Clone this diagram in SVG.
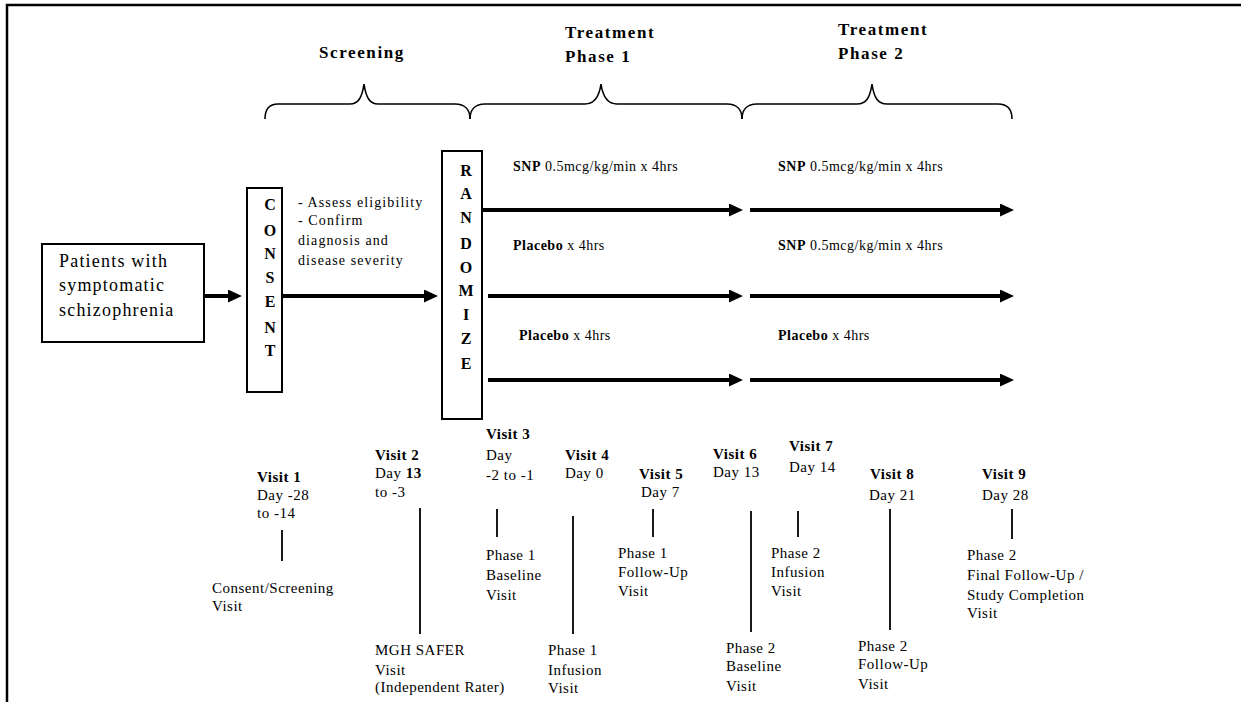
<svg xmlns="http://www.w3.org/2000/svg" width="1241" height="702" viewBox="0 0 1241 702">
<style>
text{font-family:"Liberation Serif","Times New Roman",serif;fill:#000}
.ttl{font-size:17px;font-weight:bold;letter-spacing:1.6px}
.box{fill:#fff;stroke:#000;stroke-width:2}
.vl{font-size:16px;font-weight:bold;text-anchor:middle}
.pt{font-size:18px;letter-spacing:1.2px}
.sm{font-size:14px;letter-spacing:1.1px}
.arm{font-size:14px;letter-spacing:0.5px}
.vt{font-size:15px;letter-spacing:0.5px}
.b{font-weight:bold}
.brace{fill:none;stroke:#000;stroke-width:1.6}
.arr{stroke:#000;stroke-width:4;fill:none}
.tick{stroke:#000;stroke-width:1.8}
.frame{stroke:#000;stroke-width:2.5;fill:none}
</style>
<defs>
<marker id="ah" markerUnits="userSpaceOnUse" markerWidth="14" markerHeight="13" refX="1" refY="6.5" orient="auto">
<path d="M0,0 L14,6.5 L0,13 z" fill="#000"/>
</marker>
</defs>
<rect width="1241" height="702" fill="#fff"/>
<g id="frame">
<path class="frame" d="M7,702 V5 H1241"/>
</g>
<g id="phase-headers">
<text class="ttl" x="319" y="58">Screening</text>
<text class="ttl" x="565" y="38">Treatment</text>
<text class="ttl" x="565" y="62">Phase 1</text>
<text class="ttl" x="838" y="35">Treatment</text>
<text class="ttl" x="838" y="59">Phase 2</text>
<path class="brace" d="M265,119 C265,110 268,104 278,104 L350,104 C358,104 362,98 364,84 C366,98 370,104 378,104 L455,104 C465,104 470,110 470,119"/>
<path class="brace" d="M470,119 C470,110 475,104 485,104 L585,104 C594,104 599,98 601,84 C603,98 608,104 617,104 L727,104 C737,104 742,110 742,119"/>
<path class="brace" d="M742,119 C742,110 747,104 757,104 L857,104 C866,104 870,98 872,84 C874,98 878,104 887,104 L998,104 C1008,104 1012,110 1012,119"/>
</g>
<g id="patients">
<rect class="box" x="42" y="244" width="162" height="98"/>
<text class="pt" x="59" y="267">Patients with</text>
<text class="pt" x="59" y="291">symptomatic</text>
<text class="pt" x="59" y="316">schizophrenia</text>
</g>
<g id="consent">
<rect class="box" x="247" y="188" width="35" height="204"/>
<text class="vl" x="270" y="210">C</text>
<text class="vl" x="270" y="236">O</text>
<text class="vl" x="270" y="259">N</text>
<text class="vl" x="270" y="283">S</text>
<text class="vl" x="270" y="307">E</text>
<text class="vl" x="270" y="333">N</text>
<text class="vl" x="270" y="356">T</text>
</g>
<g id="screening-notes">
<text class="sm" x="298" y="207">- Assess eligibility</text>
<text class="sm" x="298" y="225">- Confirm</text>
<text class="sm" x="298" y="245">diagnosis and</text>
<text class="sm" x="298" y="265">disease severity</text>
</g>
<g id="randomize">
<rect class="box" x="442" y="151" width="40" height="268"/>
<text class="vl" x="466" y="176">R</text>
<text class="vl" x="466" y="199">A</text>
<text class="vl" x="466" y="223">N</text>
<text class="vl" x="466" y="249">D</text>
<text class="vl" x="466" y="273">O</text>
<text class="vl" x="466" y="296">M</text>
<text class="vl" x="466" y="320">I</text>
<text class="vl" x="466" y="344">Z</text>
<text class="vl" x="466" y="369">E</text>
</g>
<g id="arm-labels">
<text class="arm" x="513" y="171"><tspan class="b">SNP</tspan> 0.5mcg/kg/min x 4hrs</text>
<text class="arm" x="778" y="171"><tspan class="b">SNP</tspan> 0.5mcg/kg/min x 4hrs</text>
<text class="arm" x="513" y="250"><tspan class="b">Placebo</tspan> x 4hrs</text>
<text class="arm" x="778" y="250"><tspan class="b">SNP</tspan> 0.5mcg/kg/min x 4hrs</text>
<text class="arm" x="519" y="340"><tspan class="b">Placebo</tspan> x 4hrs</text>
<text class="arm" x="778" y="340"><tspan class="b">Placebo</tspan> x 4hrs</text>
</g>
<g id="connectors">
<line class="arr" x1="204" y1="296" x2="229" y2="296" marker-end="url(#ah)"/>
<line class="arr" x1="282" y1="296" x2="425" y2="296" marker-end="url(#ah)"/>
<line class="arr" x1="481" y1="210" x2="730" y2="210" marker-end="url(#ah)"/>
<line class="arr" x1="750" y1="210" x2="1001" y2="210" marker-end="url(#ah)"/>
<line class="arr" x1="488" y1="296" x2="730" y2="296" marker-end="url(#ah)"/>
<line class="arr" x1="750" y1="296" x2="1001" y2="296" marker-end="url(#ah)"/>
<line class="arr" x1="488" y1="380" x2="730" y2="380" marker-end="url(#ah)"/>
<line class="arr" x1="750" y1="380" x2="1001" y2="380" marker-end="url(#ah)"/>
</g>
<g id="visit1">
<text class="vt b" x="257" y="482">Visit 1</text>
<text class="vt" x="257" y="500">Day -28</text>
<text class="vt" x="257" y="518">to -14</text>
<line class="tick" x1="282" y1="530" x2="282" y2="561"/>
<text class="vt" x="212" y="593">Consent/Screening</text>
<text class="vt" x="212" y="611">Visit</text>
</g>
<g id="visit2">
<text class="vt b" x="375" y="460">Visit 2</text>
<text class="vt" x="375" y="478">Day <tspan class="b">13</tspan></text>
<text class="vt" x="375" y="497">to -3</text>
<line class="tick" x1="420" y1="508" x2="420" y2="634"/>
<text class="vt" x="375" y="655">MGH SAFER</text>
<text class="vt" x="375" y="675">Visit</text>
<text class="vt" x="375" y="692">(Independent Rater)</text>
</g>
<g id="visit3">
<text class="vt b" x="486" y="439">Visit 3</text>
<text class="vt" x="486" y="460">Day</text>
<text class="vt" x="486" y="480">-2 to -1</text>
<line class="tick" x1="497" y1="509" x2="497" y2="537"/>
<text class="vt" x="486" y="560">Phase 1</text>
<text class="vt" x="486" y="580">Baseline</text>
<text class="vt" x="486" y="600">Visit</text>
</g>
<g id="visit4">
<text class="vt b" x="565" y="460">Visit 4</text>
<text class="vt" x="565" y="478">Day 0</text>
<line class="tick" x1="573" y1="516" x2="573" y2="634"/>
<text class="vt" x="548" y="655">Phase 1</text>
<text class="vt" x="548" y="675">Infusion</text>
<text class="vt" x="548" y="693">Visit</text>
</g>
<g id="visit5">
<text class="vt b" x="639" y="479">Visit 5</text>
<text class="vt" x="641" y="497">Day 7</text>
<line class="tick" x1="653" y1="509" x2="653" y2="537"/>
<text class="vt" x="618" y="558">Phase 1</text>
<text class="vt" x="618" y="577">Follow-Up</text>
<text class="vt" x="618" y="596">Visit</text>
</g>
<g id="visit6">
<text class="vt b" x="713" y="459">Visit 6</text>
<text class="vt" x="713" y="477">Day 13</text>
<line class="tick" x1="751" y1="511" x2="751" y2="632"/>
<text class="vt" x="726" y="653">Phase 2</text>
<text class="vt" x="726" y="671">Baseline</text>
<text class="vt" x="726" y="691">Visit</text>
</g>
<g id="visit7">
<text class="vt b" x="789" y="451">Visit 7</text>
<text class="vt" x="789" y="472">Day 14</text>
<line class="tick" x1="798" y1="511" x2="798" y2="537"/>
<text class="vt" x="771" y="558">Phase 2</text>
<text class="vt" x="771" y="577">Infusion</text>
<text class="vt" x="771" y="596">Visit</text>
</g>
<g id="visit8">
<text class="vt b" x="870" y="479">Visit 8</text>
<text class="vt" x="869" y="500">Day 21</text>
<line class="tick" x1="890" y1="509" x2="890" y2="630"/>
<text class="vt" x="858" y="651">Phase 2</text>
<text class="vt" x="858" y="669">Follow-Up</text>
<text class="vt" x="858" y="689">Visit</text>
</g>
<g id="visit9">
<text class="vt b" x="982" y="479">Visit 9</text>
<text class="vt" x="982" y="500">Day 28</text>
<line class="tick" x1="1012" y1="509" x2="1012" y2="539"/>
<text class="vt" x="967" y="560">Phase 2</text>
<text class="vt" x="967" y="580">Final Follow-Up /</text>
<text class="vt" x="967" y="600">Study Completion</text>
<text class="vt" x="967" y="618">Visit</text>
</g>
</svg>
